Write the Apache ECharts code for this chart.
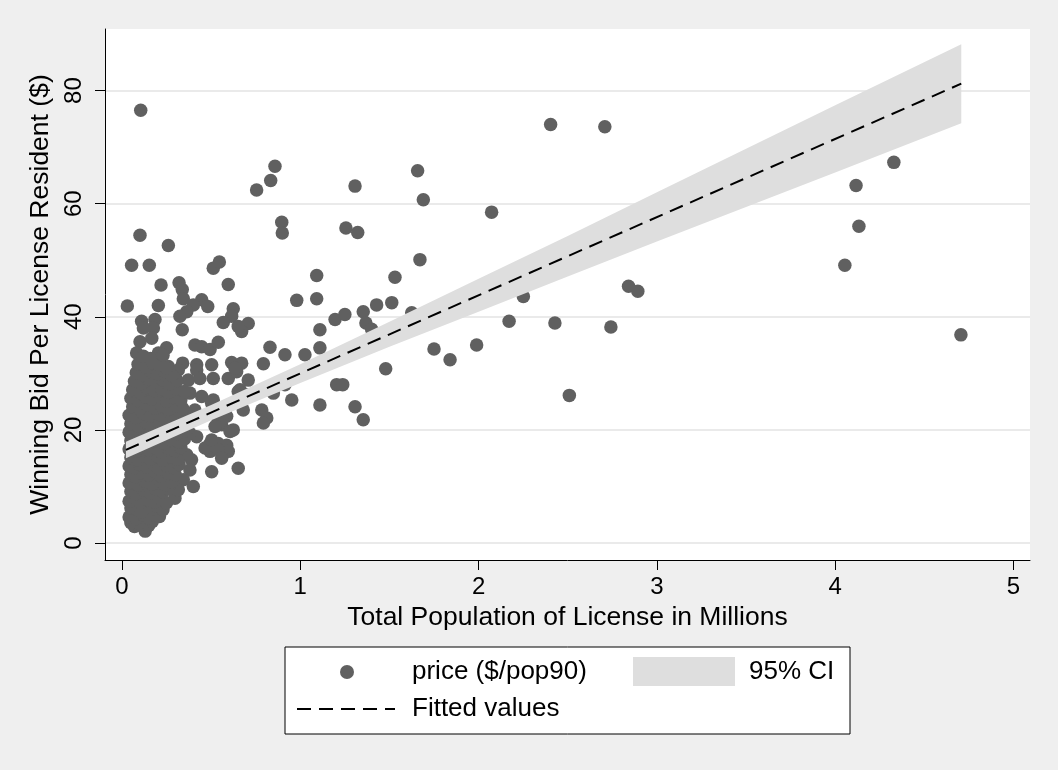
<!DOCTYPE html>
<html>
<head>
<meta charset="utf-8">
<title>Winning bid per license resident vs. license population</title>
<script src="https://cdn.jsdelivr.net/npm/echarts@6/dist/echarts.min.js"></script>
<style>
  html, body { margin: 0; padding: 0; background: #efefef; }
  #chart { width: 1058px; height: 770px; }
</style>
</head>
<body>
<div id="chart"></div>
<script>
// Licenses: [total population (millions), winning bid per resident ($)]
const licenses = [
  [0.105,76.5],[0.858,66.6],[0.834,64.1],[0.755,62.4],[1.307,63.1],[0.101,54.4],[0.26,52.6],[0.896,56.7],[0.899,54.8],[1.256,55.7],[1.322,54.9],
  [0.054,49.1],[0.153,49.1],[0.219,45.6],[0.32,46.0],[0.338,44.8],[0.344,43.2],[0.512,48.6],[0.546,49.7],[0.596,45.7],[1.092,47.3],[1.092,43.2],[0.98,42.9],
  [0.03,41.9],[0.204,42.0],[0.447,43.0],[0.481,41.8],[0.624,41.4],[0.4,42.1],[0.363,40.9],[0.325,40.1],[0.615,40.1],[0.568,39.0],[0.708,38.8],[0.671,37.4],[0.652,38.3],[0.338,37.7],
  [0.11,39.2],[0.185,39.5],[0.12,38.0],[0.176,38.0],[0.167,36.2],[0.101,35.6],[0.409,35.0],[0.447,34.7],[0.494,34.2],[0.54,35.5],[0.25,34.5],[0.082,33.6],[0.204,33.6],[0.83,34.6],
  [0.34,31.8],[0.419,31.5],[0.503,31.5],[0.615,31.9],[0.671,31.8],[0.793,31.7],[0.11,31.8],[0.185,31.8],[0.26,31.2],
  [1.11,37.7],[1.195,39.5],[1.25,40.4],[0.914,33.3],[1.026,33.3],[1.11,34.5],[0.419,30.6],[0.512,29.1],[0.437,29.1],[0.596,29.1],[0.643,30.3],
  [1.11,24.4],[0.952,25.3],[0.849,26.5],[0.662,27.1],[0.7,26.2],[0.68,23.5],[0.784,23.5],[0.812,22.1],[0.793,21.2],[0.512,25.3],[0.531,22.4],[0.559,20.9],[0.606,19.7],[0.624,20.0],
  [0.494,17.6],[0.494,16.2],[0.54,17.6],[0.587,17.3],[0.596,16.2],[0.419,18.8],[0.381,19.4],[0.503,12.6],[0.652,13.2],[0.4,10.0],[0.297,7.9],
  [1.531,47.0],[1.428,42.1],[1.513,42.5],[1.353,40.9],[1.368,38.9],[1.4,37.8],[0.634,30.9],[0.652,26.8],[0.914,28.0],[1.204,28.0],[1.238,28.0],[1.307,24.1],[1.353,21.8],[1.479,30.8],[0.587,22.4],[0.55,21.5],
  [1.658,65.8],[1.69,60.7],[2.073,58.5],[1.671,50.1],[1.625,40.7],[2.251,43.6],[2.171,39.2],[2.428,38.9],[1.75,34.3],[1.84,32.4],[1.989,35.0],[2.509,26.1],
  [2.404,74.0],[2.708,73.6],[4.329,67.3],[4.117,63.2],[4.133,56.0],[4.054,49.1],[2.841,45.4],[2.893,44.5],[2.742,38.2],[4.705,36.8],
  [0.466,16.8],[0.54,16.5],[0.559,15.0],[0.503,18.2],[0.39,14.7],[0.363,15.6],[0.381,12.9],[0.344,11.2],[0.316,9.4],[0.372,22.4],[0.409,23.5],[0.447,25.9],[0.381,26.5],[0.503,24.7],[0.522,20.6],[0.578,23.0],[0.708,28.8],[0.372,28.8],[0.316,30.6],
  // small licenses (under ~0.4 million residents)
  [0.13,2.1],[0.07,2.9],[0.1,3.3],[0.15,3.1],[0.05,3.6],[0.17,3.8],
  [0.04,4.6],[0.08,4.3],[0.12,4.9],[0.15,4.4],[0.18,5.0],[0.21,4.7],
  [0.05,6.2],[0.09,5.8],[0.13,6.4],[0.17,6.0],[0.2,6.5],[0.23,5.9],[0.11,5.5],
  [0.04,7.4],[0.07,7.9],[0.1,7.2],[0.14,7.7],[0.18,7.3],[0.22,7.8],[0.25,7.1],
  [0.05,9.1],[0.08,8.7],[0.12,9.4],[0.16,8.9],[0.19,9.5],[0.23,9.0],[0.26,9.6],
  [0.04,10.6],[0.09,10.2],[0.13,10.9],[0.17,10.4],[0.21,11.0],[0.24,10.3],[0.28,10.8],
  [0.05,12.1],[0.08,11.7],[0.11,12.4],[0.15,12.0],[0.19,12.5],[0.22,11.8],[0.26,12.3],[0.3,12.0],
  [0.04,13.6],[0.07,13.2],[0.1,13.9],[0.14,13.4],[0.18,13.8],[0.21,13.1],[0.25,13.7],[0.29,13.3],[0.32,13.9],
  [0.05,15.1],[0.09,14.7],[0.12,15.4],[0.16,14.9],[0.2,15.3],[0.23,14.6],[0.27,15.2],[0.31,14.8],
  [0.04,16.6],[0.08,16.2],[0.11,16.9],[0.15,16.4],[0.19,16.8],[0.22,16.1],[0.26,16.7],[0.3,16.3],[0.33,16.9],
  [0.05,18.1],[0.09,17.7],[0.13,18.4],[0.17,17.9],[0.21,18.3],[0.24,17.6],[0.28,18.2],[0.32,17.8],[0.35,18.4],
  [0.04,19.6],[0.08,19.2],[0.12,19.9],[0.16,19.4],[0.2,19.8],[0.23,19.1],[0.27,19.7],[0.31,19.3],[0.36,19.9],
  [0.05,21.1],[0.09,20.7],[0.13,21.4],[0.17,20.9],[0.21,21.3],[0.25,20.6],[0.29,21.2],[0.33,20.8],[0.37,21.5],
  [0.04,22.6],[0.08,22.2],[0.12,22.9],[0.16,22.4],[0.2,22.8],[0.24,22.1],[0.28,22.7],[0.32,22.3],[0.35,22.9],
  [0.06,24.1],[0.1,23.7],[0.14,24.4],[0.18,23.9],[0.22,24.3],[0.26,23.6],[0.3,24.2],[0.34,23.8],
  [0.05,25.6],[0.09,25.2],[0.13,25.9],[0.17,25.4],[0.21,25.8],[0.25,25.1],[0.29,25.7],[0.33,25.3],
  [0.06,27.1],[0.1,26.7],[0.14,27.4],[0.18,26.9],[0.22,27.3],[0.26,26.6],[0.3,27.2],[0.35,26.8],
  [0.07,28.6],[0.11,28.2],[0.15,28.9],[0.19,28.4],[0.23,28.8],[0.27,28.1],[0.31,28.7],
  [0.08,30.1],[0.12,29.7],[0.16,30.4],[0.2,29.9],[0.24,30.3],[0.28,29.6],
  [0.09,31.6],[0.13,31.2],[0.17,31.9],[0.21,31.4],[0.25,31.0],
  [0.12,33.0],[0.16,32.6],[0.23,33.2]
];

// Linear fit, endpoints at the smallest and largest license
const fitPop = [0.022, 4.707];
const fitPrice = [16.46, 81.21];

// 95% confidence band of the fit
const ciPop  = [0.022, 0.5, 1.0, 1.5, 2.0, 2.5, 3.0, 3.5, 4.0, 4.707];
const ciLow  = [15.0, 21.7, 28.3, 34.7, 40.9, 47.1, 53.3, 59.4, 65.5, 74.2];
const ciHigh = [17.9, 24.4, 31.6, 39.1, 46.7, 54.3, 62.0, 69.7, 77.4, 88.2];

const xTicks = [0, 1, 2, 3, 4, 5];
const yTicks = [0, 20, 40, 60, 80];

const legendLabels = ['price ($/pop90)', '95% CI', 'Fitted values'];

const FONT = "'Liberation Sans', Arial, Helvetica, sans-serif";
const MARKER = '#606060';
const BAND = '#dedede';
const DASH = [14, 8];

const chart = echarts.init(document.getElementById('chart'), null, { renderer: 'canvas' });

const legendText = (x, y, text) => ({
  type: 'text', x: x, y: y, silent: true,
  style: { text: text, fill: '#000', font: '26px ' + FONT, verticalAlign: 'middle', align: 'left' }
});

chart.setOption({
  animation: false,
  backgroundColor: '#efefef',
  textStyle: { fontFamily: FONT },
  grid: {
    left: 105, right: 28, top: 29, bottom: 210,
    show: true, backgroundColor: '#ffffff', borderWidth: 0,
    outerBoundsMode: 'none'
  },
  xAxis: {
    type: 'value',
    min: -0.0953, max: 5.0925,
    name: 'Total Population of License in Millions',
    nameLocation: 'middle', nameGap: 42,
    nameTextStyle: { fontSize: 26.5, color: '#000', fontFamily: FONT },
    axisLine: { show: true, onZero: false, lineStyle: { color: '#000', width: 1 } },
    axisTick: { show: true, length: 10, customValues: xTicks, lineStyle: { color: '#000', width: 1 } },
    axisLabel: { customValues: xTicks, fontSize: 24, color: '#000', margin: 15, fontFamily: FONT },
    splitLine: { show: false }
  },
  yAxis: {
    type: 'value',
    min: -3.006, max: 90.88,
    name: 'Winning Bid Per License Resident ($)',
    nameLocation: 'middle', nameGap: 45,
    nameTextStyle: { fontSize: 26.5, color: '#000', fontFamily: FONT },
    axisLine: { show: true, onZero: false, lineStyle: { color: '#000', width: 1 } },
    axisTick: { show: true, length: 10, customValues: yTicks, lineStyle: { color: '#000', width: 1 } },
    axisLabel: { customValues: yTicks, rotate: 90, fontSize: 24, color: '#000', margin: 19, fontFamily: FONT },
    splitLine: { show: true, lineStyle: { color: '#eaeaea', width: 2 } }
  },
  series: [
    {
      name: legendLabels[0],
      type: 'scatter',
      data: licenses,
      symbol: 'circle',
      symbolSize: 13.5,
      itemStyle: { color: MARKER, opacity: 1 },
      silent: true,
      z: 2
    },
    {
      name: legendLabels[1],
      type: 'custom',
      data: ciPop.map((x, i) => [x, ciLow[i], ciHigh[i]]),
      encode: { x: 0, y: [1, 2] },
      silent: true,
      z: 3,
      renderItem: function (params, api) {
        if (params.dataIndex !== 0) return null;
        const upper = ciPop.map((x, i) => api.coord([x, ciHigh[i]]));
        const lower = ciPop.map((x, i) => api.coord([x, ciLow[i]])).reverse();
        return {
          type: 'polygon',
          shape: { points: upper.concat(lower) },
          style: { fill: BAND, stroke: null }
        };
      }
    },
    {
      name: legendLabels[2],
      type: 'line',
      data: fitPop.map((x, i) => [x, fitPrice[i]]),
      showSymbol: false,
      symbol: 'none',
      silent: true,
      z: 4,
      lineStyle: { color: '#000', width: 2, type: DASH }
    }
  ],
  graphic: [
    { type: 'rect', silent: true,
      shape: { x: 285, y: 647, width: 565, height: 87 },
      style: { fill: '#ffffff', stroke: '#000', lineWidth: 1 } },
    { type: 'circle', silent: true,
      shape: { cx: 347, cy: 672, r: 7 },
      style: { fill: MARKER } },
    legendText(412, 672, legendLabels[0]),
    { type: 'rect', silent: true,
      shape: { x: 633, y: 657, width: 102, height: 29 },
      style: { fill: BAND } },
    legendText(749, 672, legendLabels[1]),
    { type: 'line', silent: true,
      shape: { x1: 297, y1: 709, x2: 395, y2: 709 },
      style: { stroke: '#000', lineWidth: 2, lineDash: DASH } },
    legendText(412, 709, legendLabels[2])
  ]
});
</script>
</body>
</html>
